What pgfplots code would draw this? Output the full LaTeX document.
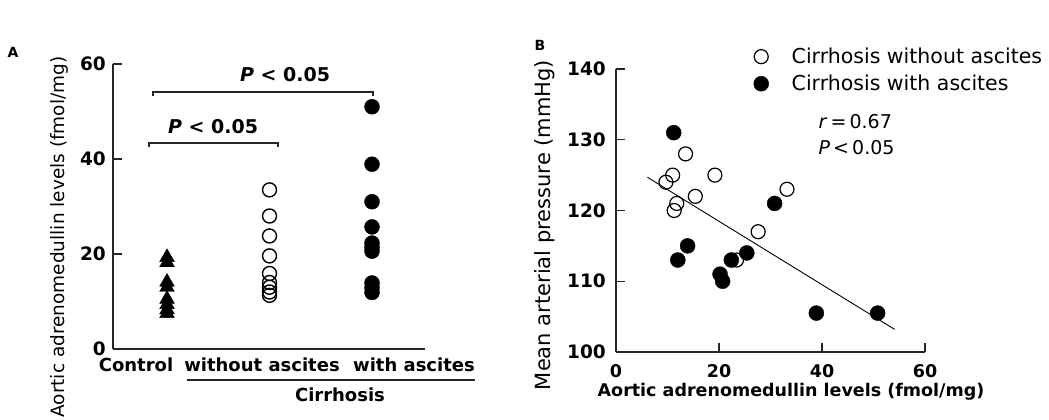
\documentclass[border=0pt]{standalone}
\usepackage{fontspec}
\setmainfont{DejaVu Sans}
\usepackage{pgfplots}
\pgfplotsset{compat=1.18}

\newcommand\fs[1]{\fontsize{#1}{#1}\selectfont}

\pgfplotsset{
  panel/.style={
    scale only axis,
    axis x line*=bottom,
    axis y line*=left,
    axis line style={line width=1.5pt,black!85},
    tick style={line width=1.2pt,black!85},
    major tick length=9pt,
    tick align=inside,
    tick label style={font=\bfseries\fs{18.5}},
    /pgf/number format/assume math mode=true,
    clip=false,
  },
}

\begin{document}
\begin{tikzpicture}
\useasboundingbox (0,0) rectangle (1049pt,420pt);

% ---------- panel A ----------
\begin{axis}[panel,
  at={(113pt,71pt)}, anchor=south west,
  width=312pt, height=285pt,
  xmin=-0.527, xmax=2.517,
  ymin=0, ymax=60,
  xtick=\empty,
  ytick={0,20,40,60},
  yticklabel style={inner sep=0pt,xshift=-7pt},
]
% control
\addplot[only marks,mark=triangle*,mark size=8.5pt,black] coordinates {
(0,19.3) (0,18.2) (0,14.1) (0,13.0) (0,10.5) (0,9.4) (0,8.3) (0,7.5)
};
% cirrhosis without ascites
\addplot[only marks,mark=o,mark size=7pt,black,line width=1.4pt,fill=white] coordinates {
(1,33.5) (1,28.0) (1,23.8) (1,19.6) (1,15.9) (1,14.0) (1,13.0) (1,12.0) (1,11.3)
};
% cirrhosis with ascites
\addplot[only marks,mark=*,mark size=7.5pt,black] coordinates {
(2,51.0) (2,38.9) (2,31.0) (2,25.7) (2,22.3) (2,21.4) (2,20.6) (2,13.9) (2,12.9) (2,11.9)
};
\end{axis}

% brackets and labels of panel A
\draw[line width=1.2pt,black!85] (149pt,273pt) -- (149pt,277pt) -- (278pt,277pt) -- (278pt,273pt);
\draw[line width=1.2pt,black!85] (153pt,324pt) -- (153pt,328pt) -- (373pt,328pt) -- (373pt,324pt);
\node[font=\bfseries\fs{19}] at (213pt,293pt) {\textit{P} < 0.05};
\node[font=\bfseries\fs{19}] at (285pt,345pt) {\textit{P} < 0.05};
\node[font=\bfseries\fs{18}] at (136pt,55pt) {Control};
\node[font=\bfseries\fs{18}] at (262pt,55pt) {without ascites};
\node[font=\bfseries\fs{18}] at (414pt,55pt) {with ascites};
\draw[line width=1.2pt,black!85] (187pt,40pt) -- (475pt,40pt);
\node[font=\bfseries\fs{18}] at (340pt,25pt) {Cirrhosis};
\node[rotate=90,font=\fs{18.5}] at (59pt,183pt) {Aortic adrenomedullin levels (fmol/mg)};
\node[font=\bfseries\fs{14}] at (13pt,368pt) {A};

% ---------- panel B ----------
\begin{axis}[panel,
  at={(616pt,68pt)}, anchor=south west,
  width=309pt, height=283pt,
  xmin=0, xmax=60,
  ymin=100, ymax=140,
  xtick={0,20,40,60},
  ytick={100,110,120,130,140},
  yticklabel style={inner sep=0pt,xshift=-10pt},
  xticklabel style={inner sep=0pt,yshift=-12pt,font=\bfseries\fs{17.5}},
  legend style={at={(axis description cs:0.445,1.078)},anchor=north west,
    draw=none,fill=none,font=\fs{20.5},inner sep=0pt,row sep=8pt,
    nodes={inner sep=1pt},
    /tikz/every odd column/.append style={column sep=22pt}},
  legend cell align=left,
]
\addplot[black,line width=0.9pt,forget plot] coordinates {(6.1,124.7) (54.1,103.2)};
\addplot[only marks,mark=o,mark size=7pt,black,line width=1.2pt,fill=white] coordinates {
(9.7,124) (11.0,125) (13.5,128) (19.2,125) (15.4,122) (11.8,121) (11.3,120)
(33.2,123) (27.6,117) (23.4,113)
};
\addplot[only marks,mark=*,mark size=7.5pt,black] coordinates {
(11.2,131) (13.9,115) (12.0,113) (22.4,113) (25.4,114) (30.8,121)
(20.2,111) (20.7,110) (38.9,105.5) (50.8,105.5)
};
\legend{Cirrhosis without ascites,Cirrhosis with ascites}
\end{axis}

\node[anchor=west,font=\fs{19}] at (815pt,298pt) {\textit{r}\,=\,0.67};
\node[anchor=west,font=\fs{19}] at (815pt,272pt) {\textit{P}\,<\,0.05};
\node[font=\bfseries\fs{17.5}] at (791pt,28pt) {Aortic adrenomedullin levels (fmol/mg)};
\node[rotate=90,font=\fs{21}] at (545pt,195pt) {Mean arterial pressure (mmHg)};
\node[font=\bfseries\fs{14}] at (540pt,375pt) {B};
\end{tikzpicture}
\end{document}
